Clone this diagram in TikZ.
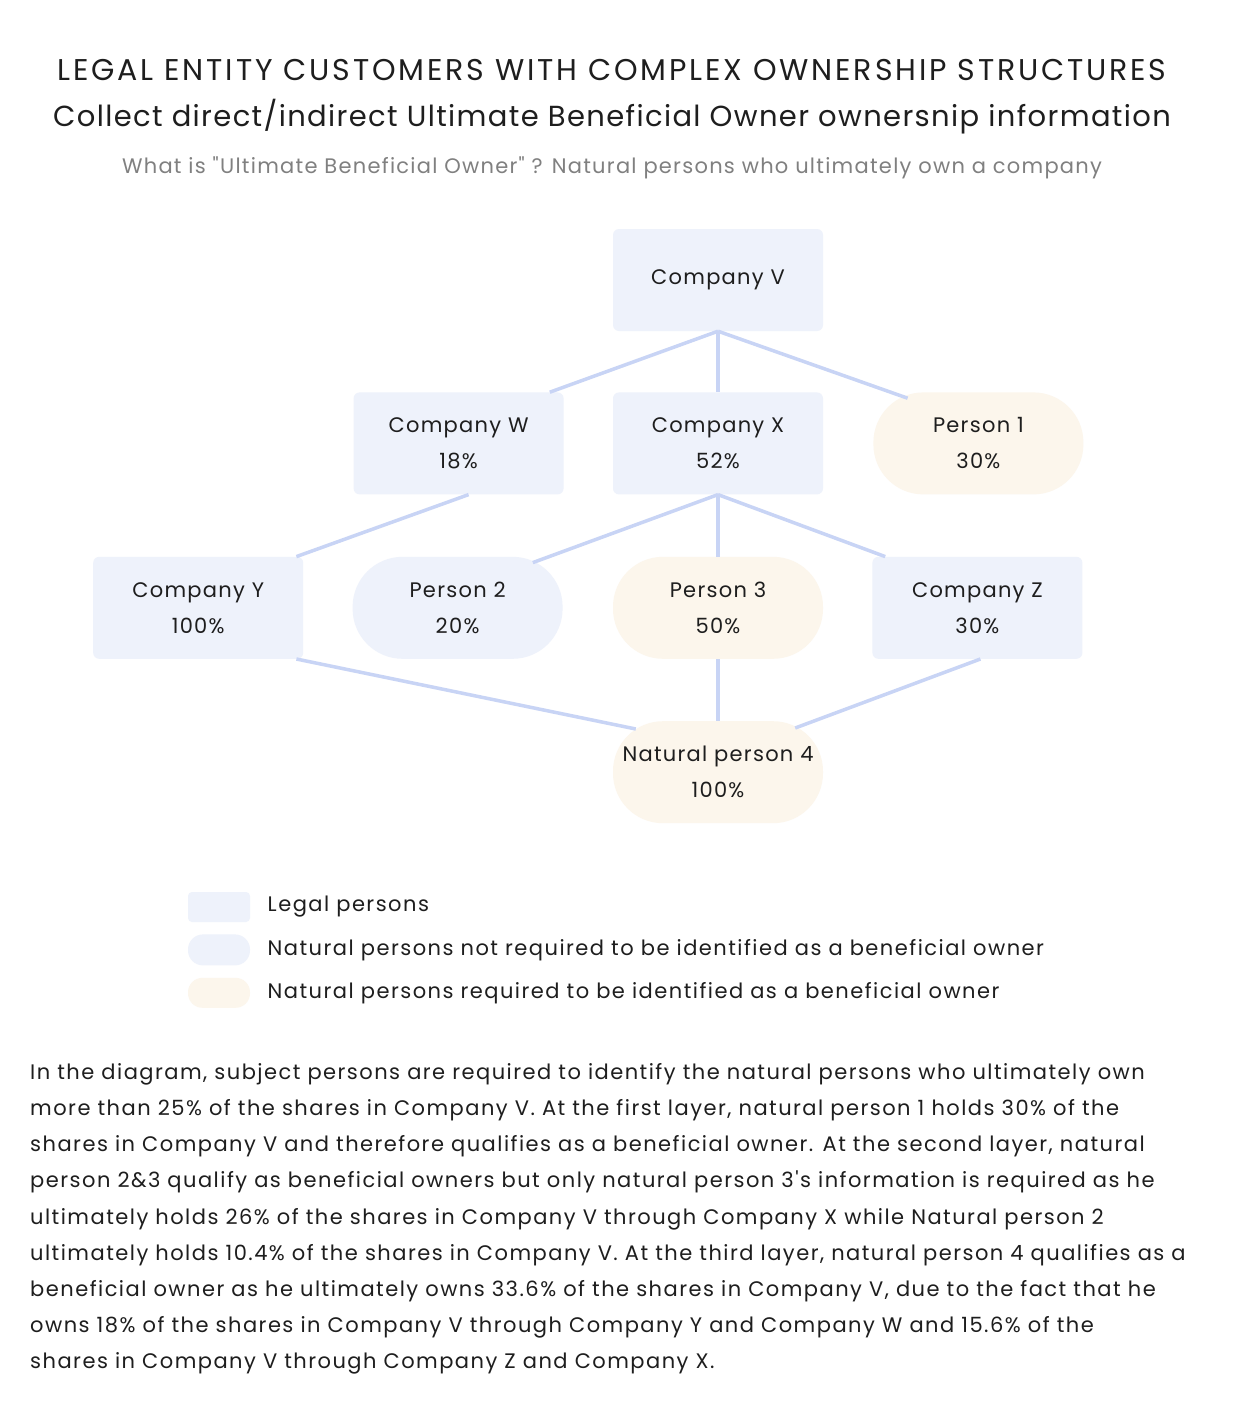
\documentclass[tikz,border=0pt]{standalone}
\usepackage{fontspec}
\setmainfont{Poppins}[LetterSpace=6, Ligatures=TeXOff]
\newfontfamily\headfont{Poppins}[LetterSpace=9.5, Ligatures=TeXOff]
\newfontfamily\subheadfont{Poppins}[LetterSpace=4.7, Ligatures=TeXOff]
\newfontfamily\bodyfont{Poppins}[LetterSpace=7, Ligatures=TeXOff]
\usepackage{tikz}
\usetikzlibrary{positioning,calc}

\definecolor{legalfill}{RGB}{238,242,251}
\definecolor{ownerfill}{RGB}{252,246,236}
\definecolor{linkblue}{RGB}{200,212,245}
\definecolor{subgray}{RGB}{128,128,128}
\definecolor{textdark}{RGB}{30,30,30}

\begin{document}
\begin{tikzpicture}[
    x=1pt, y=-1pt,
    entity/.style={rectangle, fill=legalfill, minimum width=210pt, minimum height=102pt, rounded corners=6pt, align=center, text=textdark, font=\fontsize{21}{36}\selectfont},
    natural/.style={entity, rounded corners=50pt},
    owner/.style={natural, fill=ownerfill},
    link/.style={draw=linkblue, line width=3.5pt},
    legendtext/.style={anchor=west, text=textdark, font=\bodyfont\fontsize{21}{24}\selectfont}
]
\useasboundingbox[fill=white] (0,0) rectangle (1256,1416);

\node[text=textdark, font=\headfont\fontsize{30}{34}\selectfont] (title) at (612,70) {LEGAL ENTITY CUSTOMERS WITH COMPLEX OWNERSHIP STRUCTURES};
\node[text=textdark, font=\subheadfont\fontsize{29}{34}\selectfont] (subtitle) at (612,117) {Collect direct/indirect Ultimate Beneficial Owner ownersnip information};
\node[text=subgray, font=\fontsize{21}{24}\selectfont] (question) at (612,168) {What is "Ultimate Beneficial Owner" ? Natural persons who ultimately own a company};

\node[entity] (cv) at (718,280) {Company V};
\node[entity, below=61pt of cv] (cx) {Company X\\52\%};
\node[entity, left=49pt of cx] (cw) {Company W\\18\%};
\node[owner, right=50pt of cx] (p1) {Person 1\\30\%};
\node[owner, below=62pt of cv |- cx.south] (p3) {Person 3\\50\%};
\node[natural, left=50pt of p3] (p2) {Person 2\\20\%};
\node[entity, left=49pt of p2] (cy) {Company Y\\100\%};
\node[entity, right=49pt of p3] (cz) {Company Z\\30\%};
\node[owner, below=62pt of p3] (np4) {Natural person 4\\100\%};

\draw[link] (cv.south) -- ([xshift=-14pt]cw.north east);
\draw[link] (cv.south) -- (cv.south |- cx.north);
\draw[link] (cv.south) -- ([xshift=-176pt, yshift=-6pt]p1.north east);
\draw[link] ([xshift=10pt]cw.south) -- ([xshift=-7pt]cy.north east);
\draw[link] (cx.south) -- ([xshift=-30pt, yshift=-6pt]p2.north east);
\draw[link] (cx.south) -- (cx.south |- p3.north);
\draw[link] (cx.south) -- ([xshift=13pt]cz.north west);
\draw[link] ([xshift=-7pt]cy.south east) -- ([xshift=23pt, yshift=-8pt]np4.north west);
\draw[link] (p3.south) -- (np4.north);
\draw[link] ([xshift=3pt]cz.south) -- ([xshift=-28pt, yshift=-7pt]np4.north east);

\node[rectangle, fill=legalfill, minimum width=62pt, minimum height=30pt, rounded corners=4pt] (keylegal) at (219,907) {};
\node[rectangle, fill=legalfill, minimum width=62pt, minimum height=31pt, rounded corners=15pt, below=12pt of keylegal] (keynatural) {};
\node[rectangle, fill=ownerfill, minimum width=62pt, minimum height=30pt, rounded corners=14.5pt, below=12pt of keynatural] (keyowner) {};
\node[legendtext, right=14pt of keylegal] (txtlegal) {Legal persons};
\node[legendtext, right=14pt of keynatural] (txtnatural) {Natural persons not required to be identified as a beneficial owner};
\node[legendtext, right=14pt of keyowner] (txtowner) {Natural persons required to be identified as a beneficial owner};

\node[anchor=north west, align=left, text=textdark, inner sep=0pt, font=\bodyfont\fontsize{21}{36.2}\selectfont] (explain) at (30,1063) {In the diagram, subject persons are required to identify the natural persons who ultimately own\\
more than 25\% of the shares in Company V. At the first layer, natural person 1 holds 30\% of the\\
shares in Company V and therefore qualifies as a beneficial owner. At the second layer, natural\\
person 2\&3 qualify as beneficial owners but only natural person 3's information is required as he\\
ultimately holds 26\% of the shares in Company V through Company X while Natural person 2\\
ultimately holds 10.4\% of the shares in Company V. At the third layer, natural person 4 qualifies as a\\
beneficial owner as he ultimately owns 33.6\% of the shares in Company V, due to the fact that he\\
owns 18\% of the shares in Company V through Company Y and Company W and 15.6\% of the\\
shares in Company V through Company Z and Company X.};

\end{tikzpicture}
\end{document}
